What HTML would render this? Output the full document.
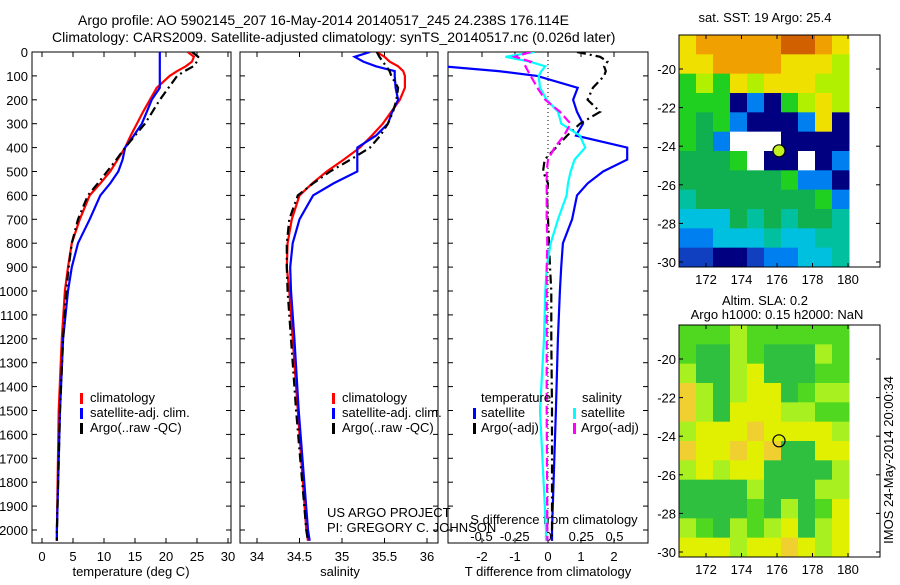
<!DOCTYPE html>
<html><head><meta charset="utf-8"><style>
body{margin:0;background:#fff}
svg{font-family:"Liberation Sans",sans-serif;}
text{font-size:13px;fill:#000}
</style></head><body>
<svg id="s" width="900" height="580" viewBox="0 0 900 580">
<defs>
<clipPath id="c1"><rect x="32" y="52" width="199" height="491"/></clipPath>
<clipPath id="c2"><rect x="240" y="52" width="198" height="491"/></clipPath>
<clipPath id="c3"><rect x="448" y="52" width="200" height="491"/></clipPath>
</defs>
<text x="78" y="25" style="font-size:14px">Argo profile: AO 5902145_207 16-May-2014 20140517_245 24.238S 176.114E</text>
<text x="52" y="42" style="font-size:14px">Climatology: CARS2009. Satellite-adjusted climatology: synTS_20140517.nc (0.026d later)</text>
</svg>
<script>
// ---- data ----
const depths = [0,20,40,60,80,100,150,200,250,300,350,400,450,500,550,600,700,800,900,1000,1200,1500,2000,2045];
const tempClim = [23.5,24.5,24.2,23.2,21.8,20.6,18.5,17.4,16.3,15.3,14.3,13.4,12.2,11,9.4,7.7,6.1,4.8,4.2,3.7,3.2,2.7,2.4,2.4];
const tempSat  = [19.0,19.0,19.0,19.0,19.0,19.0,19.0,17.7,16.9,16.1,14.8,13.4,13.0,12.3,11,9.4,7.7,5.8,4.8,4.2,3.4,2.9,2.4,2.4];
const tempArgo = [24.2,25.2,25.0,24.4,23.0,21.8,20.4,19,17.8,16.6,15.0,13.4,12.0,10.5,9.0,7.4,5.8,4.8,4.3,3.9,3.4,2.9,2.4,2.4];
const salClim = [35.41,35.50,35.56,35.66,35.72,35.74,35.74,35.68,35.58,35.48,35.35,35.21,35.02,34.82,34.65,34.5,34.41,34.36,34.35,34.38,34.42,34.48,34.58,34.6];
const salSat  = [35.33,35.15,35.25,35.40,35.62,35.62,35.63,35.66,35.59,35.54,35.40,35.18,35.18,35.18,34.90,34.66,34.5,34.42,34.39,34.4,34.44,34.49,34.6,34.62];
const salArgo = [35.41,35.44,35.48,35.52,35.56,35.58,35.66,35.64,35.60,35.54,35.45,35.33,35.10,34.86,34.66,34.48,34.38,34.35,34.35,34.36,34.40,34.46,34.58,34.6];
const dTSat  = [-3.5,-3.5,-3.5,-3.2,-1.5,-0.33,0.9,0.76,0.88,1.06,0.85,2.4,2.4,1.67,1.2,0.88,0.73,0.45,0.4,0.36,0.3,0.24,0.12,0.12];
const dTArgo = [0.88,1.58,1.8,1.7,1.75,1.7,1.36,1.2,1.58,0.97,0.58,0.24,-0.1,-0.15,0,-0.03,0,0.03,0.06,0.1,0.1,0.12,0.12,0.12];
const dSSat  = [-0.1,-0.32,-0.14,-0.02,-0.05,-0.07,-0.06,-0.01,0.075,0.1,0.24,0.28,0.2,0.17,0.15,0.14,0.075,0.02,-0.01,-0.02,-0.03,-0.06,-0.015,-0.015];
const dSArgo = [-0.13,-0.25,-0.13,-0.17,-0.15,-0.13,-0.08,-0.02,0.09,0.17,0.12,0.05,0,-0.01,-0.01,-0.01,-0.01,-0.005,-0.01,-0.01,-0.01,-0.01,-0.005,-0.005];
const depthTicks = [0,100,200,300,400,500,600,700,800,900,1000,1100,1200,1300,1400,1500,1600,1700,1800,1900,2000];
const tempTicks = [0,5,10,15,20,25,30];
const salTicks = [34,34.5,35,35.5,36];
const dTTicks = [-2,-1,0,1,2];
const dSTicks = [-0.5,-0.25,0,0.25,0.5];
const latTicks = [-20,-22,-24,-26,-28,-30];
const lonTicks = [172,174,176,178,180];
const sstGrid = ["yoooooOOoy","yyooooyyyl","glgylyyyll","gggnbnglyl","gGgbnnnbyn","gGbwwwnnnn","GGGgwnnwnb","GGGGGGgbbn","tGGGGGGGgb","cccGtGtGGt","bbccctcctt","BBnnBbbcct"];
const slaGrid = ["ggglgggggg","gGGlgGGGlg","lGGlyGGGgg","YlGlyyGgll","YlGyyyllgg","lyyyYyyyyl","YyyYyYGGyy","lylyyGGGGl","GGGGlGGGll","GGGGgGlGgy","lgGlglyGly","yyylyyYyly"];
const argoLon = 176.114, argoLat = -24.238;

// ---- scales ----
const NS='http://www.w3.org/2000/svg', S=document.getElementById('s');
function el(tag,attrs,parent){const e=document.createElementNS(NS,tag);for(const k in attrs)e.setAttribute(k,attrs[k]);(parent||S).appendChild(e);return e;}
const yD = d => 52 + d*0.239;
const xT = t => 42 + t*6.2;
const xS = s => 257 + (s-34)*85;
const xdT = t => 548 + t*33;
const xdS = s => 548 + s*133;

function txt(x,y,str,anchor,name,extra){const t=el('text',Object.assign({x:x,y:y,'text-anchor':anchor||'start'},extra||{}));t.textContent=str;return t;}

function panel(x0,x1,name){
  const r=el('rect',{x:x0,y:52,width:x1-x0,height:491,fill:'none',stroke:'#000','stroke-width':1});
  
  
  depthTicks.forEach(d=>{el('line',{x1:x0,x2:x0+5,y1:yD(d),y2:yD(d),stroke:'#000'});el('line',{x1:x1,x2:x1-5,y1:yD(d),y2:yD(d),stroke:'#000'});});
}
function line(xs,xf,color,dash,clip,name){
  const pts=depths.map((d,i)=>xf(xs[i]).toFixed(1)+','+yD(d).toFixed(1)).join(' ');
  const p=el('polyline',{points:pts,fill:'none',stroke:color,'stroke-width':2.2,'clip-path':'url(#'+clip+')'});
  if(dash)p.setAttribute('stroke-dasharray',dash);
  
  
}
function xticks(ticks,xf,x0,x1,labY,fmt,name,top){
  ticks.forEach(v=>{const x=xf(v);el('line',{x1:x,x2:x,y1:543,y2:538,stroke:'#000'});if(top)el('line',{x1:x,x2:x,y1:52,y2:57,stroke:'#000'});if(labY)txt(x,labY,fmt?fmt(v):String(v),'middle',name);});
}

// panel 1
panel(32,231,'temperature-panel');
depthTicks.forEach(d=>txt(28,yD(d)+5,String(d),'end','depth-tick-label'));
xticks(tempTicks,xT,32,231,561,null,'temp-tick-label',true);
txt(131,576,'temperature (deg C)','middle','temperature-axis-title');
line(tempClim,xT,'#f00',null,'c1','temp-climatology-line');
line(tempSat,xT,'#00f',null,'c1','temp-satellite-line');
line(tempArgo,xT,'#000','9,4,2,4','c1','temp-argo-line');

// panel 2
panel(240,438,'salinity-panel');
xticks(salTicks,xS,240,438,561,null,'sal-tick-label',true);
txt(340,576,'salinity','middle','salinity-axis-title');
line(salClim,xS,'#f00',null,'c2','sal-climatology-line');
line(salSat,xS,'#00f',null,'c2','sal-satellite-line');
line(salArgo,xS,'#000','9,4,2,4','c2','sal-argo-line');

// legends 1,2
[[80,'legend-temp'],[332,'legend-sal']].forEach(([lx,nm])=>{
  [['#f00','climatology'],['#00f','satellite-adj. clim.'],['#000','Argo(..raw -QC)']].forEach(([c,l],i)=>{
    const y=402+i*15;
    el('rect',{x:lx,y:y-9,width:3,height:11,fill:c});
    txt(lx+10,y,l,'start',nm+'-entry');
  });
});
txt(327,517,'US ARGO PROJECT','start','project-label');
txt(327,532,'PI: GREGORY C. JOHNSON','start','pi-label');

// panel 3
panel(448,648,'difference-panel');
el('line',{x1:548,x2:548,y1:52,y2:543,stroke:'#000','stroke-dasharray':'1,3'});
xticks(dTTicks,xdT,448,648,561,null,'dT-tick-label',true);
dSTicks.forEach(v=>txt(xdS(v),541,v===0?'0':String(v),'middle','dS-tick-label'));
txt(554,524,'S difference from climatology','middle','dS-axis-title');
txt(548,576,'T difference from climatology','middle','dT-axis-title');
line(dTSat,xdT,'#00f',null,'c3','dT-satellite-line');
line(dTArgo,xdT,'#000','9,4,2,4','c3','dT-argo-line');
line(dSSat,xdS,'#0ff',null,'c3','dS-satellite-line');
line(dSArgo,xdS,'#f0f','9,4','c3','dS-argo-line');
txt(481,402,'temperature','start','legend-temperature-heading');
txt(582,402,'salinity','start','legend-salinity-heading');
[['#00f','satellite',473,417],['#000','Argo(-adj)',473,432],['#0ff','satellite',573,417],['#f0f','Argo(-adj)',573,432]].forEach(([c,l,lx,y])=>{
  el('rect',{x:lx,y:y-9,width:3,height:11,fill:c});
  txt(lx+8,y,l,'start','legend-diff-entry');
});

// maps
const colors={o:'#f0a000',O:'#d06000',y:'#f0e000',l:'#b0f000',g:'#20d020',G:'#10b050',t:'#00c0a0',c:'#00c0e0',b:'#0080f0',B:'#1040c0',n:'#000080',w:'#ffffff',Y:'#f0c830'};
const slaColors={g:'#50d820',G:'#30c040',l:'#a8f020',y:'#e0f000',Y:'#f0d030'};
function map(top,grid,pal,name,title1,title2,filled){
  const lx = lon => 706 + (lon-172)*17.75;
  const ly = lat => top + 34 + (-20-lat)*19.3;
  const x0=679,x1=880,y0=top,y1=top+232,dx1=849;
  const rows=grid.length, cols=grid[0].length, cw=(dx1-x0)/cols, ch=(y1-y0)/rows;
  const g=el('g',{});
  
  
  grid.forEach((r,i)=>{for(let j=0;j<cols;j++){el('rect',{x:x0+j*cw,y:y0+i*ch,width:cw+0.5,height:ch+0.5,fill:pal[r[j]]},g);}});
  el('rect',{x:x0,y:y0,width:x1-x0,height:y1-y0,fill:'none',stroke:'#000'});
  latTicks.forEach(v=>{const y=ly(v);el('line',{x1:x0,x2:x0+4,y1:y,y2:y,stroke:'#000'});el('line',{x1:x1,x2:x1-4,y1:y,y2:y,stroke:'#000'});txt(676,y+5,String(v),'end','lat-tick-label');});
  lonTicks.forEach(v=>{const x=lx(v);el('line',{x1:x,x2:x,y1:y0,y2:y0+4,stroke:'#000'});el('line',{x1:x,x2:x,y1:y1,y2:y1-4,stroke:'#000'});txt(x,y1+17,String(v),'middle','lon-tick-label');});
  const c=el('circle',{cx:lx(argoLon),cy:ly(argoLat),r:6,fill:filled?'#c0f020':'none',stroke:'#000','stroke-width':1.2});
  
  
  if(title2){txt(765,top-20,title1,'middle',name+'-title');txt(777,top-6,title2,'middle',name+'-subtitle');}
  else txt(765,top-13,title1,'middle',name+'-title');
}
map(35,sstGrid,colors,'sst-map','sat. SST: 19 Argo: 25.4',null,true);
map(325,slaGrid,slaColors,'sla-map','Altim. SLA: 0.2','Argo h1000: 0.15 h2000: NaN',false);
txt(0,0,'IMOS 24-May-2014 20:00:34','middle','imos-timestamp',{transform:'translate(893,460) rotate(-90)'});
</script>
</body></html>
